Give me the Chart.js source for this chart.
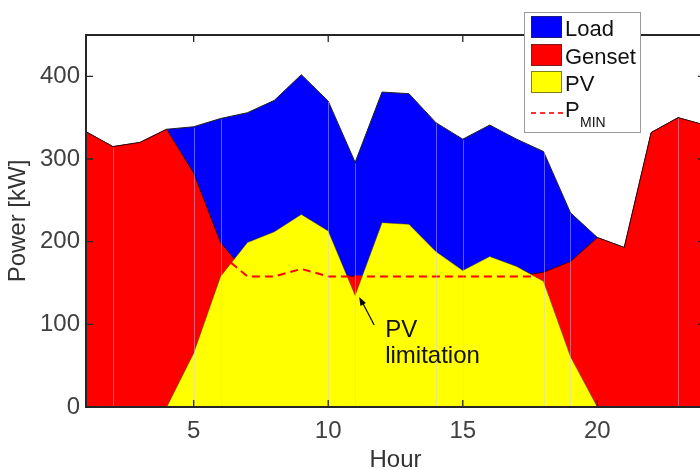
<!DOCTYPE html>
<html>
<head>
<meta charset="utf-8">
<script src="https://cdn.jsdelivr.net/npm/chart.js@4.4.1/dist/chart.umd.min.js"></script>
<style>
  html, body { margin: 0; padding: 0; background: #fff; overflow: hidden; }
  #grafico { display: block; }
</style>
</head>
<body>
<canvas id="grafico" width="720" height="473"></canvas>
<script>
// Dados (kW por hora)
const horas = [1, 2, 3, 4, 5, 6, 7, 8, 9, 10, 11, 12, 13, 14, 15, 16, 17, 18, 19, 20, 21, 22, 23, 24];
const carga = [333, 315, 320, 336, 339, 349, 356, 371, 402, 370, 296, 381, 379, 344, 324, 341, 324, 309, 235, 205, 193, 332, 350, 341];
const gerador = [333, 315, 320, 336, 283, 199, 160, 160, 160, 160, 158, 158, 158, 158, 158, 158, 158, 163, 176, 205, 193, 332, 350, 341];
const fotovoltaica = [0, 0, 0, 0, 65, 158, 199, 212, 233, 213, 135, 223, 221, 188, 165, 182, 170, 152, 61, 0, 0, 0, 0, 0];
const pMin = [158, 158, 158, 158, 158, 185, 158, 158, 167, 158, 158, 158, 158, 158, 158, 158, 158, 158, 158, 158, 158, 158, 158, 158];

const ticksX = [5, 10, 15, 20];
const ticksY = [0, 100, 200, 300, 400];
// horas onde aparecem as "costuras" claras das áreas
const costuras = [2, 5, 6, 10, 11, 14, 15, 18, 19, 23];

const fonte = "'Liberation Sans', Arial, Helvetica, sans-serif";

function pontos(serie) {
    return horas.map((h, i) => ({ x: h, y: serie[i] }));
}

// ==========================================
// PLUGIN: caixa, ticks internos, legenda e anotação
// ==========================================
const decoracao = {
    id: 'decoracao',
    afterDatasetsDraw(chart) {
        const { ctx, chartArea: a, scales: { x, y } } = chart;
        ctx.save();

        // linhas claras verticais dentro das áreas
        ctx.strokeStyle = 'rgba(205,205,255,0.45)';
        ctx.lineWidth = 1;
        costuras.forEach(h => {
            const i = horas.indexOf(h);
            const px = Math.round(x.getPixelForValue(h)) + 0.5;
            ctx.beginPath();
            ctx.moveTo(px, a.bottom);
            ctx.lineTo(px, y.getPixelForValue(carga[i]) + 1);
            ctx.stroke();
        });

        // caixa dos eixos
        ctx.strokeStyle = '#262626';
        ctx.lineWidth = 2;
        ctx.strokeRect(a.left, a.top, a.right - a.left, a.bottom - a.top);

        ctx.lineWidth = 1.3;
        ctx.beginPath();
        ticksX.forEach(v => {
            const px = x.getPixelForValue(v);
            ctx.moveTo(px, a.bottom); ctx.lineTo(px, a.bottom - 7);
            ctx.moveTo(px, a.top); ctx.lineTo(px, a.top + 7);
        });
        ticksY.forEach(v => {
            const py = y.getPixelForValue(v);
            ctx.moveTo(a.left, py); ctx.lineTo(a.left + 7, py);
            ctx.moveTo(a.right, py); ctx.lineTo(a.right - 7, py);
        });
        ctx.stroke();

        // anotação "PV limitation"
        const tx = x.getPixelForValue(11.15);
        const ty = y.getPixelForValue(133);
        ctx.strokeStyle = '#000';
        ctx.fillStyle = '#000';
        ctx.lineWidth = 1.2;
        ctx.beginPath();
        ctx.moveTo(tx + 15, ty + 28);
        ctx.lineTo(tx + 3, ty + 5);
        ctx.stroke();
        const ang = Math.atan2(-28, -15);
        ctx.beginPath();
        ctx.moveTo(tx, ty);
        ctx.lineTo(tx - 9 * Math.cos(ang - 0.35), ty - 9 * Math.sin(ang - 0.35));
        ctx.lineTo(tx - 9 * Math.cos(ang + 0.35), ty - 9 * Math.sin(ang + 0.35));
        ctx.closePath();
        ctx.fill();

        ctx.font = '24px ' + fonte;
        ctx.fillStyle = '#111';
        ctx.textAlign = 'left';
        ctx.textBaseline = 'alphabetic';
        ctx.fillText('PV', tx + 26, ty + 40);
        ctx.fillText('limitation', tx + 26, ty + 66);

        ctx.restore();
    },
    afterDraw(chart) {
        const { ctx } = chart;
        ctx.save();
        // legenda
        const lx = 524, ly = 12, lw = 116, lh = 120;
        ctx.fillStyle = '#fff';
        ctx.fillRect(lx, ly, lw, lh);
        ctx.strokeStyle = '#9a9a9a';
        ctx.lineWidth = 1;
        ctx.strokeRect(lx + 0.5, ly + 0.5, lw, lh);

        const itens = [
            { texto: 'Load', cor: '#0000ff', borda: '#1a1a80', y: 16 },
            { texto: 'Genset', cor: '#ff0000', borda: '#801a1a', y: 44 },
            { texto: 'PV', cor: '#ffff00', borda: '#80801a', y: 71 }
        ];
        ctx.font = '22px ' + fonte;
        ctx.textBaseline = 'alphabetic';
        itens.forEach(it => {
            ctx.fillStyle = it.cor;
            ctx.fillRect(531, it.y, 31, 22);
            ctx.strokeStyle = it.borda;
            ctx.strokeRect(531.5, it.y + 0.5, 30, 21);
            ctx.fillStyle = '#111';
            ctx.fillText(it.texto, 565, it.y + 20);
        });

        ctx.strokeStyle = '#ff3030';
        ctx.lineWidth = 2;
        ctx.setLineDash([5, 4]);
        ctx.beginPath();
        ctx.moveTo(531, 113);
        ctx.lineTo(563, 113);
        ctx.stroke();
        ctx.setLineDash([]);

        ctx.fillStyle = '#111';
        ctx.fillText('P', 565, 117);
        ctx.font = '14px ' + fonte;
        ctx.fillText('MIN', 580, 127);
        ctx.restore();
    }
};

new Chart(document.getElementById('grafico'), {
    type: 'line',
    data: {
        datasets: [
            {
                label: 'Load',
                data: pontos(carga),
                backgroundColor: '#0000ff',
                borderColor: '#222',
                borderWidth: 1,
                fill: 'origin',
                order: 3
            },
            {
                label: 'Genset',
                data: pontos(gerador),
                backgroundColor: '#ff0000',
                borderColor: 'rgba(40,0,0,0.8)',
                borderWidth: 1,
                fill: 'origin',
                order: 2
            },
            {
                label: 'PV',
                data: pontos(fotovoltaica),
                backgroundColor: '#ffff00',
                borderColor: 'rgba(70,70,0,0.6)',
                borderWidth: 0.8,
                fill: 'origin',
                order: 1
            },
            {
                label: 'PMIN',
                data: pontos(pMin),
                borderColor: '#ff0000',
                borderWidth: 2,
                borderDash: [8, 5],
                fill: false,
                order: 0
            }
        ]
    },
    options: {
        responsive: false,
        animation: false,
        events: [],
        elements: { point: { radius: 0 }, line: { tension: 0 } },
        layout: { padding: { top: 35, right: 15, left: 0, bottom: 0 } },
        plugins: { legend: { display: false }, tooltip: { enabled: false } },
        scales: {
            x: {
                type: 'linear',
                min: 1,
                max: 24,
                afterBuildTicks: s => { s.ticks = ticksX.map(v => ({ value: v })); },
                afterFit: s => { s.height = 66; },
                grid: { display: false, drawTicks: false },
                border: { display: false },
                ticks: { padding: 10, color: '#404040', font: { family: fonte, size: 24 }, maxRotation: 0 },
                title: { display: true, text: 'Hour', color: '#333', font: { family: fonte, size: 24 }, padding: { top: 0, bottom: -2 } }
            },
            y: {
                min: 0,
                max: 450,
                afterBuildTicks: s => { s.ticks = ticksY.map(v => ({ value: v })); },
                afterFit: s => { s.width = 86; },
                grid: { display: false, drawTicks: false },
                border: { display: false },
                ticks: { padding: 6, color: '#404040', font: { family: fonte, size: 24 } },
                title: { display: true, text: 'Power [kW]', color: '#333', font: { family: fonte, size: 24 }, padding: { top: 4, bottom: 0 } }
            }
        }
    },
    plugins: [decoracao]
});
</script>
</body>
</html>
